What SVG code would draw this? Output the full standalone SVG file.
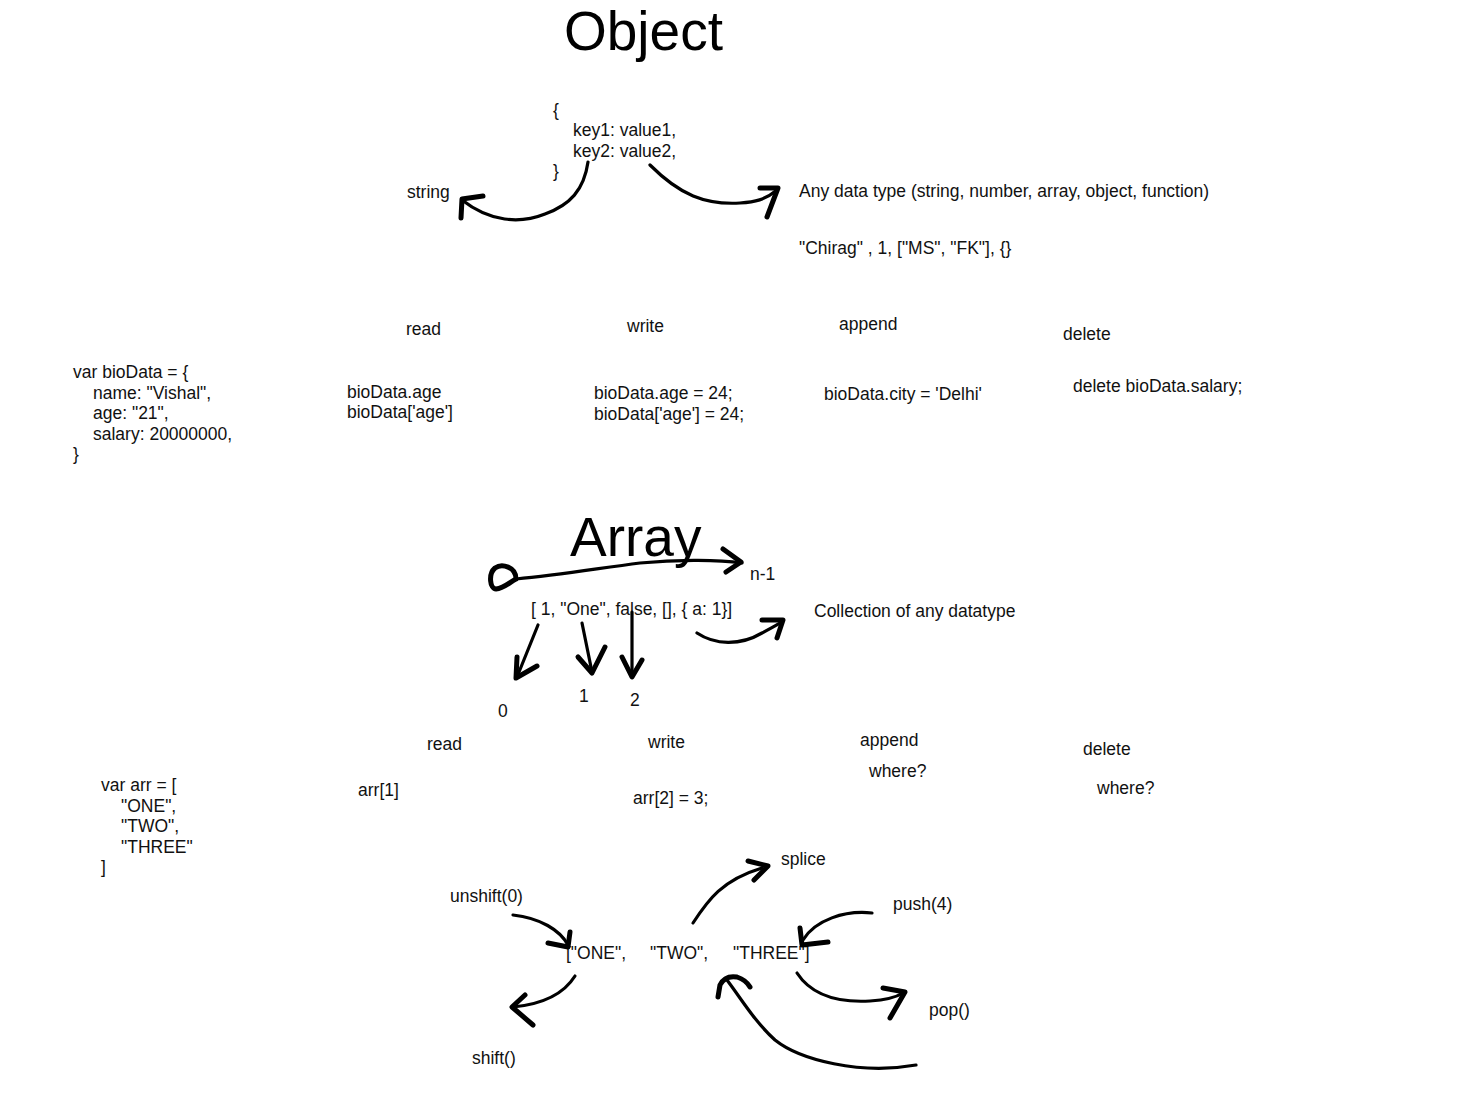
<svg xmlns="http://www.w3.org/2000/svg" width="1478" height="1108" viewBox="0 0 1478 1108">
<style>
text{font-family:"Liberation Sans",Arial,sans-serif;font-size:17.5px;fill:#111}
.title{font-size:55px;fill:#000}
.s{fill:none;stroke:#000;stroke-width:3.2;stroke-linecap:round;stroke-linejoin:round}
.h{fill:none;stroke:#000;stroke-width:5;stroke-linecap:round;stroke-linejoin:round}
</style>
<rect width="1478" height="1108" fill="#fff"/>
<g id="object-title"><text class="title" x="564" y="50">Object</text></g>
<g id="object-literal">
<text x="553" y="116">{</text>
<text x="573" y="136">key1: value1,</text>
<text x="573" y="157">key2: value2,</text>
<text x="553" y="177">}</text>
</g>
<g id="key-string"><text x="407" y="198">string</text></g>
<g id="value-type">
<text x="799" y="197">Any data type (string, number, array, object, function)</text>
<text x="799" y="254">"Chirag" , 1, ["MS", "FK"], {}</text>
</g>
<g id="obj-headers">
<text x="406" y="335">read</text>
<text x="627" y="332">write</text>
<text x="839" y="330">append</text>
<text x="1063" y="340">delete</text>
</g>
<g id="biodata">
<text x="73" y="378">var bioData = {</text>
<text x="93" y="398.5">name: "Vishal",</text>
<text x="93" y="419">age: "21",</text>
<text x="93" y="439.5">salary: 20000000,</text>
<text x="73" y="460">}</text>
</g>
<g id="obj-read"><text x="347" y="398">bioData.age</text><text x="347" y="418">bioData['age']</text></g>
<g id="obj-write"><text x="594" y="399">bioData.age = 24;</text><text x="594" y="420">bioData['age'] = 24;</text></g>
<g id="obj-append"><text x="824" y="400">bioData.city = 'Delhi'</text></g>
<g id="obj-delete"><text x="1073" y="392">delete bioData.salary;</text></g>
<g id="array-title"><text class="title" x="570" y="556">Array</text></g>
<g id="n-1"><text x="750" y="580">n-1</text></g>
<g id="array-literal"><text x="531" y="615">[ 1, "One", false, [], { a: 1}]</text></g>
<g id="collection"><text x="814" y="617">Collection of any datatype</text></g>
<g id="indices">
<text x="498" y="717">0</text>
<text x="579" y="702">1</text>
<text x="630" y="706">2</text>
</g>
<g id="arr-headers">
<text x="427" y="750">read</text>
<text x="648" y="748">write</text>
<text x="860" y="746">append</text>
<text x="869" y="777">where?</text>
<text x="1083" y="755">delete</text>
<text x="1097" y="794">where?</text>
</g>
<g id="arr-def">
<text x="101" y="791">var arr = [</text>
<text x="121" y="811.5">"ONE",</text>
<text x="121" y="832">"TWO",</text>
<text x="121" y="852.5">"THREE"</text>
<text x="101" y="873">]</text>
</g>
<g id="arr-read"><text x="358" y="796">arr[1]</text></g>
<g id="arr-write"><text x="633" y="804">arr[2] = 3;</text></g>
<g id="splice"><text x="781" y="865">splice</text></g>
<g id="unshift"><text x="450" y="902">unshift(0)</text></g>
<g id="push"><text x="893" y="910">push(4)</text></g>
<g id="arr-values"><text y="959"><tspan x="566">["ONE",</tspan><tspan x="650">"TWO",</tspan><tspan x="733">"THREE"]</tspan></text></g>
<g id="pop"><text x="929" y="1016">pop()</text></g>
<g id="shift"><text x="472" y="1064">shift()</text></g>
<g id="connectors">
<path class="s" d="M588,162 C584,190 570,205 545,214 C520,224 490,222 462,200"/>
<path class="h" d="M483,196 L462,199 L461,218"/>
<path class="s" d="M650,165 C680,195 705,205 740,203 C755,202 765,200 777,190"/>
<path class="h" d="M760,188 L778,188 L767,217"/>
<path class="h" d="M516,579 C516,567 502,563 495,568 C488,574 490,589 496,589 C504,588 510,582 516,579"/>
<path class="s" d="M516,579 C560,575 600,568 640,563 C680,559 720,560 742,563"/>
<path class="h" d="M723,549 L741,562 L726,572"/>
<path class="s" d="M538,625 L517,677"/>
<path class="h" d="M517,657 L516,678 L537,666"/>
<path class="s" d="M582,623 L592,672"/>
<path class="h" d="M578,657 L592,673 L605,647"/>
<path class="s" d="M632,612 L632,677"/>
<path class="h" d="M622,657 L632,677 L642,660"/>
<path class="s" d="M697,633 C715,645 740,646 762,633 C770,629 775,626 782,622"/>
<path class="h" d="M762,620 L783,620 L777,638"/>
<path class="s" d="M513,915 C540,918 560,930 568,945"/>
<path class="h" d="M548,943 L568,947 L570,932"/>
<path class="s" d="M693,923 C708,900 722,880 762,868"/>
<path class="h" d="M748,861 L768,866 L754,880"/>
<path class="s" d="M872,913 C845,910 815,920 803,940"/>
<path class="h" d="M800,928 L802,945 L828,942"/>
<path class="s" d="M575,976 C565,992 545,1004 513,1007"/>
<path class="h" d="M525,995 L512,1007 L533,1025"/>
<path class="s" d="M797,973 C810,993 835,1003 870,1001 C885,1000 895,998 903,993"/>
<path class="h" d="M883,988 L905,992 L890,1018"/>
<path class="s" d="M916,1065 C860,1075 800,1060 775,1040 C755,1022 742,1000 727,980"/>
<path class="h" d="M718,997 L720,985 Q725,975 737,977 Q746,980 750,987"/>
</g>
</svg>
